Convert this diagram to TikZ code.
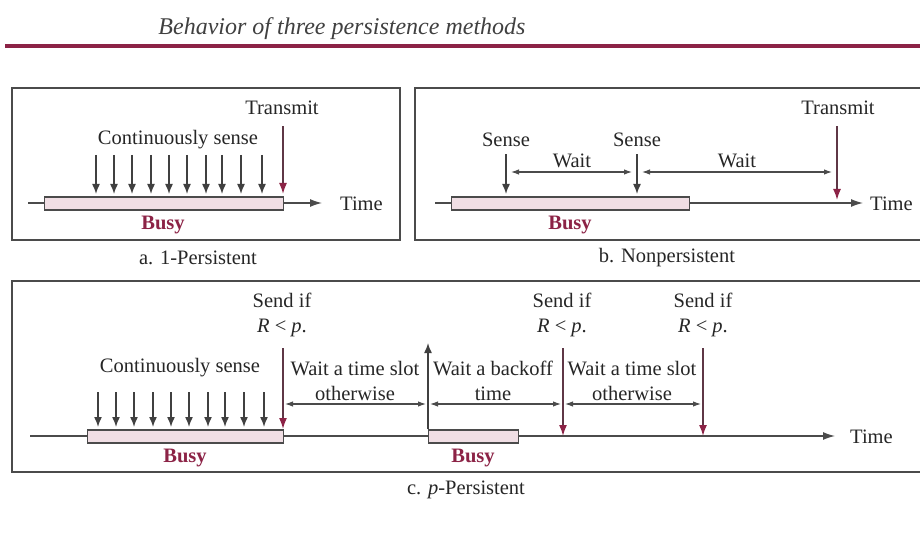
\documentclass[tikz,border=0pt]{standalone}
\usepackage{fontspec}
\setmainfont{Liberation Serif}
\usetikzlibrary{arrows.meta}
\definecolor{maroon}{RGB}{140,35,70}
\definecolor{busyfill}{RGB}{240,222,228}
\definecolor{linegray}{RGB}{75,75,75}
\definecolor{sendc}{RGB}{95,55,70}
\tikzset{
  txt/.style={font=\fontsize{20.5}{25}\selectfont, text=black!85, inner sep=0pt, align=center},
  busylbl/.style={font=\fontsize{20.5}{25}\selectfont\bfseries, text=maroon, inner sep=0pt},
  panel/.style={draw=linegray, line width=1.8pt},
  busybar/.style={draw=linegray, fill=busyfill, line width=1.3pt, minimum height=13pt, inner sep=0pt, anchor=west},
  axis/.style={draw=linegray, line width=1.3pt, -{Latex[length=12pt,width=8pt]}},
  sensearr/.style={draw=black!75, line width=1.5pt, -{Latex[length=10pt,width=8pt]}},
  sendarr/.style={draw=sendc, line width=1.6pt, -{Latex[length=11pt,width=8pt,color=maroon]}},
  waitarr/.style={draw=linegray, line width=1.1pt, {Latex[length=8pt,width=5.5pt]}-{Latex[length=8pt,width=5.5pt]}},
}
\begin{document}
\begin{tikzpicture}[x=1pt,y=-1pt]
\useasboundingbox (0,0) rectangle (920,537);
\fill[white] (0,0) rectangle (920,537);
% title and rule
\node[font=\fontsize{24}{26}\selectfont\itshape, text=black!75, inner sep=0pt] (title) at (342,29) {Behavior of three persistence methods};
\draw[maroon, line width=4pt] (5,46) -- (925,46);

% ---------- panel a ----------
\draw[panel] (12,88) rectangle (400,240);
\coordinate (a0) at (28,203);
\node[txt, anchor=west] (timeA) at (340,204) {Time};
\draw[axis, shorten >=18pt] (a0) -- (a0 -| timeA.west);
\node[busybar, minimum width=239pt] (busyA) at (44,203.5) {};
\node[busylbl] (busyAl) at (163,225) {Busy};
\node[txt] (contA) at (178,140) {Continuously sense};
\foreach \x in {96,114,132,151,169,187,206,222,241,262}
  \draw[sensearr] (\x,155) -- (\x,194);
\node[txt] (transA) at (282,108) {Transmit};
\coordinate (transAend) at (283,194);
\draw[sendarr] ([yshift=-11pt]transA.south -| transAend) -- (transAend);
\node[txt] (capA) at (198,258) {a. 1-Persistent};

% ---------- panel b ----------
\draw[panel] (415,88) rectangle (935,240);
\coordinate (b0) at (435,203);
\node[txt, anchor=west] (timeB) at (870,204) {Time};
\draw[axis, shorten >=7pt] (b0) -- (b0 -| timeB.west);
\node[busybar, minimum width=238pt] (busyB) at (451,203.5) {};
\node[busylbl] (busyBl) at (570,225) {Busy};
\node[txt] (senseB1) at (506,140) {Sense};
\node[txt] (senseB2) at (637,140) {Sense};
\coordinate (sB1) at (506,194);
\coordinate (sB2) at (637,194);
\draw[sensearr] ([yshift=-7pt]senseB1.south) -- (sB1);
\draw[sensearr] ([yshift=-7pt]senseB2.south) -- (sB2);
\node[txt] (transB) at (838,108) {Transmit};
\coordinate (tB) at (837,200);
\draw[sendarr] ([yshift=-11pt]transB.south -| tB) -- (tB);
\coordinate (w1a) at (511,172);
\coordinate (w1b) at (632,172);
\coordinate (w2a) at (642,172);
\coordinate (w2b) at (832,172);
\draw[waitarr] (w1a) -- (w1b);
\draw[waitarr] (w2a) -- (w2b);
\node[txt] (waitB1) at (572,161) {Wait};
\node[txt] (waitB2) at (737,161) {Wait};
\node[txt] (capB) at (667,258) {b. Nonpersistent};

% ---------- panel c ----------
\draw[panel] (12,281) rectangle (935,472);
\coordinate (c0) at (30,436);
\node[txt, anchor=west] (timeC) at (850,437) {Time};
\draw[axis, shorten >=15pt] (c0) -- (c0 -| timeC.west);
\node[busybar, minimum width=196pt] (busyC1) at (87,436.5) {};
\node[busybar, minimum width=90pt] (busyC2) at (428,436.5) {};
\node[busylbl] (busyC1l) at (185,458) {Busy};
\node[busylbl] (busyC2l) at (473,458) {Busy};
\node[txt] (contC) at (180,368) {Continuously sense};
\foreach \x in {98,116,134,153,171,189,208,225,244,264}
  \draw[sensearr] (\x,392) -- (\x,427);
% send labels
\node[txt] (send1) at (282,315) {Send if\\\textit{R} < \textit{p}.};
\node[txt] (send2) at (562,315) {Send if\\\textit{R} < \textit{p}.};
\node[txt] (send3) at (703,315) {Send if\\\textit{R} < \textit{p}.};
\coordinate (s1top) at (283,348);
\coordinate (s1end) at (283,429);
\coordinate (s2top) at (563,348);
\coordinate (s2end) at (563,436);
\coordinate (s3top) at (703,348);
\coordinate (s3end) at (703,436);
\draw[sendarr] (s1top) -- (s1end);
\draw[sendarr] (s2top) -- (s2end);
\draw[sendarr] (s3top) -- (s3end);
% back-off start arrow (upward)
\coordinate (upTop) at (428,343);
\draw[sensearr] (busyC2.north west) -- (upTop);
% wait arrows
\coordinate (cw1a) at (285,404);
\coordinate (cw1b) at (426,404);
\coordinate (cw2a) at (430,404);
\coordinate (cw2b) at (561,404);
\coordinate (cw3a) at (565,404);
\coordinate (cw3b) at (701,404);
\draw[waitarr] (cw1a) -- (cw1b);
\draw[waitarr] (cw2a) -- (cw2b);
\draw[waitarr] (cw3a) -- (cw3b);
\node[txt] (waitC1) at (355,381) {Wait a time slot\\otherwise};
\node[txt] (waitC2) at (493,381) {Wait a backoff\\time};
\node[txt] (waitC3) at (632,381) {Wait a time slot\\otherwise};
\node[txt] (capC) at (466,490) {c. \textit{p}-Persistent};
\end{tikzpicture}
\end{document}
